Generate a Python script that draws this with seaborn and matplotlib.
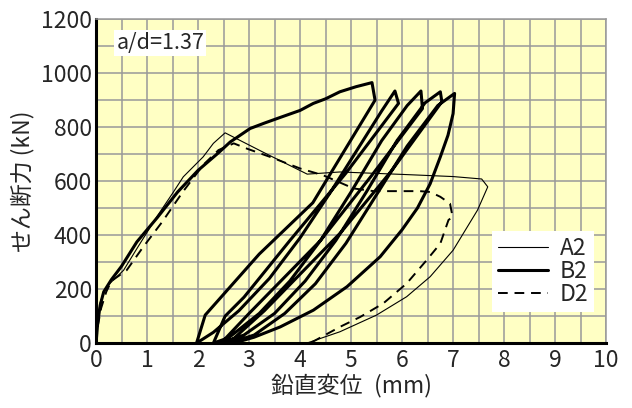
import matplotlib
matplotlib.use("Agg")
import matplotlib.pyplot as plt
import seaborn as sns
import pandas as pd
from matplotlib.ticker import MultipleLocator

# --- data (displacement mm, shear kN) ---
a2_x = [0, 0.03, 0.08, 0.15, 0.27, 0.54, 0.8, 1.19, 1.5, 1.71, 2.1, 2.3, 2.53,
        3.3, 4.14, 4.78, 6.0, 7.0, 7.56, 7.68, 7.48, 7.0, 6.55, 6.09, 5.5, 4.78, 4.13]
a2_y = [0, 90, 150, 190, 221, 270, 350, 468, 555, 616, 690, 740, 779,
        705, 626, 634, 625, 617, 608, 579, 493, 344, 246, 172, 104, 42, 0]

b2_x = [0, 0.03, 0.08, 0.15, 0.3, 0.5, 0.8, 1.2, 1.6, 2.0, 2.4, 2.63, 3.02, 3.3,
        3.61, 4.0, 4.26, 4.5, 4.78, 5.1, 5.41, 5.47,
        4.25, 3.2, 2.14, 1.97,
        2.3, 2.8, 3.4, 4.0, 4.6, 5.2, 5.6, 5.86, 5.93,
        4.9, 3.8, 2.9, 2.53, 2.3,
        2.6, 3.2, 3.8, 4.4, 5.0, 5.6, 6.1, 6.37, 6.4,
        5.4, 4.4, 3.0, 2.45,
        2.9, 3.5, 4.1, 4.7, 5.3, 5.9, 6.45, 6.75, 6.78,
        5.8, 4.8, 3.3, 2.6,
        3.1, 3.7, 4.3, 4.9, 5.5, 6.1, 6.7, 7.03, 7.0,
        6.9, 6.75, 6.55, 6.3, 6.0, 5.57, 4.92, 4.26, 3.61, 3.1, 2.7]
b2_y = [0, 70, 140, 190, 235, 285, 375, 465, 560, 640, 705, 745, 795, 815,
        836, 862, 888, 905, 931, 950, 965, 900,
        520, 330, 104, 0,
        40, 120, 240, 390, 560, 740, 860, 934, 888,
        630, 380, 170, 100, 0,
        20, 110, 230, 380, 560, 750, 880, 934, 869,
        620, 380, 110, 0,
        30, 110, 230, 380, 560, 750, 890, 931, 894,
        640, 410, 120, 0,
        30, 110, 220, 370, 550, 730, 880, 925, 850,
        770, 690, 590, 500, 420, 320, 209, 122, 60, 22, 0]

d2_x = [0, 0.04, 0.1, 0.2, 0.3, 0.6, 0.9, 1.3, 1.7, 2.1, 2.4, 2.7, 2.95, 3.41,
        4.0, 4.45, 5.05, 5.44, 6.35, 6.55, 6.75, 6.94, 6.99, 6.91, 6.75, 6.48,
        6.09, 5.63, 5.18, 4.78, 4.2]
d2_y = [0, 70, 130, 190, 230, 270, 350, 450, 560, 660, 715, 740, 721, 690,
        647, 622, 573, 563, 563, 560, 542, 517, 468, 456, 369, 307,
        221, 147, 97, 60, 0]

labels = ["A2", "B2", "D2"]
x_ticks = list(range(0, 11))
y_ticks = list(range(0, 1201, 200))

sns.set_style("white")
plt.rcParams['font.family'] = ['Noto Sans CJK JP', 'DejaVu Sans']

fig = plt.figure(figsize=(6.32, 4.08), dpi=100)
ax = fig.add_axes([0.152, 0.159, 0.807, 0.794])
ax.set_facecolor("#FFFFC4")

df_a = pd.DataFrame({"x": a2_x, "y": a2_y})
df_b = pd.DataFrame({"x": b2_x, "y": b2_y})
df_d = pd.DataFrame({"x": d2_x, "y": d2_y})

sns.lineplot(data=df_a, x="x", y="y", sort=False, estimator=None, ax=ax,
             color="black", linewidth=0.8, label=labels[0])
sns.lineplot(data=df_b, x="x", y="y", sort=False, estimator=None, ax=ax,
             color="black", linewidth=2.2, label=labels[1])
sns.lineplot(data=df_d, x="x", y="y", sort=False, estimator=None, ax=ax,
             color="black", linewidth=1.4, linestyle=(0, (5, 3.5)), label=labels[2])

ax.set_xlim(0, 10)
ax.set_ylim(0, 1200)
ax.set_xticks(x_ticks)
ax.set_yticks(y_ticks)
ax.xaxis.set_minor_locator(MultipleLocator(0.5))
ax.yaxis.set_minor_locator(MultipleLocator(100))
ax.grid(which="both", color="#999999", linewidth=1.1)
ax.set_axisbelow(True)
ax.tick_params(which="both", length=0, labelsize=16.5)
ax.tick_params(axis="x", pad=4)
ax.tick_params(axis="y", pad=3)

for side in ["top", "right"]:
    ax.spines[side].set_color("#999999")
    ax.spines[side].set_linewidth(1.1)
for side in ["left", "bottom"]:
    ax.spines[side].set_color("black")
    ax.spines[side].set_linewidth(2.2)

ax.set_xlabel("鉛直変位\u2002(mm)", fontsize=16.5, labelpad=1)
ax.set_ylabel("せん断力 (kN)", fontsize=16.5, labelpad=5)

ax.text(0.04, 0.96, "a/d=1.37", transform=ax.transAxes, fontsize=15.5,
        va="top", ha="left",
        bbox=dict(facecolor="white", edgecolor="none", pad=1.5))

leg = ax.legend(loc="upper left", bbox_to_anchor=(0.777, 0.345), fontsize=16.5,
                frameon=True, fancybox=False, framealpha=1, edgecolor="none",
                handlelength=2.2, handletextpad=0.5, labelspacing=0.0,
                borderpad=0.25, borderaxespad=0)
leg.get_frame().set_facecolor("white")

fig.savefig("out.png", dpi=100)
